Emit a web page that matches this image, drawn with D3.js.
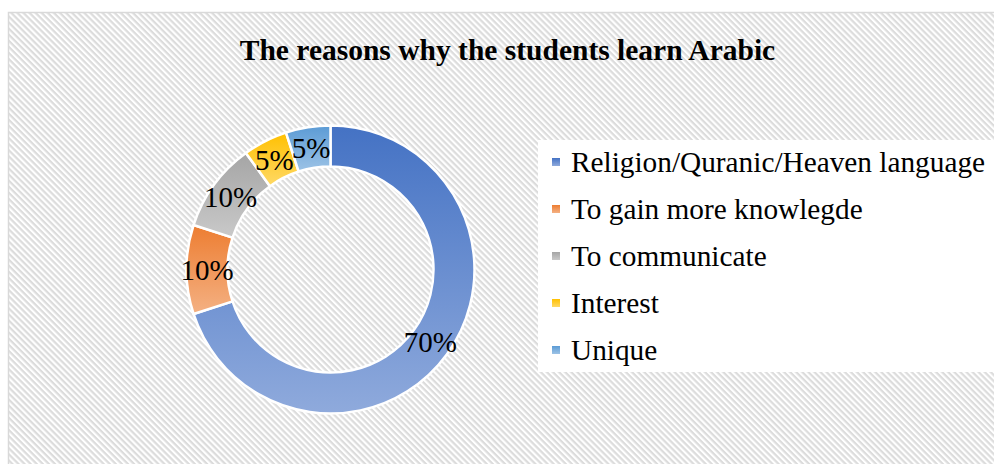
<!DOCTYPE html>
<html>
<head>
<meta charset="utf-8">
<script src="https://cdn.jsdelivr.net/npm/d3@7/dist/d3.min.js"></script>
<style>
html,body{margin:0;padding:0;background:#fff;}
svg{display:block;}
</style>
</head>
<body>
<svg id="chart" width="994" height="464"></svg>
<script>
const title = "The reasons why the students learn Arabic";
const categories = ["Religion/Quranic/Heaven language","To gain more knowlegde","To communicate","Interest","Unique"];
const values = [70, 10, 10, 5, 5];
const labels = ["70%","10%","10%","5%","5%"];
const colorsTop = ["#4472C4","#ED7D31","#A5A5A5","#FFC000","#5B9BD5"];
const colorsBottom = ["#8FAADC","#F4B183","#C9C9C9","#FFD966","#9DC3E6"];

const svg = d3.select("#chart");
const W = 994, H = 464;
const defs = svg.append("defs");
const serif = "'Liberation Serif','Times New Roman',Times,serif";

// hatch pattern
const pat = defs.append("pattern").attr("id","hatch").attr("patternUnits","userSpaceOnUse")
  .attr("width",4.3).attr("height",4.3).attr("patternTransform","rotate(45)");
pat.append("rect").attr("width",4.3).attr("height",4.3).attr("fill","#ffffff");
pat.append("rect").attr("width",4.3).attr("height",2.2).attr("fill","#dcdcdc");

svg.append("rect").attr("width",W).attr("height",H).attr("fill","#fff");
svg.append("rect").attr("x",8.5).attr("y",12.5).attr("width",1000).attr("height",500)
  .attr("fill","url(#hatch)").attr("stroke","#d9d9d9").attr("stroke-width",1.5);

// gradients
categories.forEach((c,i)=>{
  const g = defs.append("linearGradient").attr("id","grad"+i)
    .attr("x1",0).attr("y1",0).attr("x2",0).attr("y2",1);
  g.append("stop").attr("offset","0%").attr("stop-color",colorsTop[i]);
  g.append("stop").attr("offset","100%").attr("stop-color",colorsBottom[i]);
});

// title
svg.append("text").attr("x",507.5).attr("y",60).attr("text-anchor","middle")
  .attr("font-family",serif)
  .attr("font-weight","bold").attr("font-size",29.5).attr("fill","#000").text(title);

// donut
const cx = 330.5, cy = 269.5, rOuter = 144, rInner = 103;
const pie = d3.pie().sort(null).value(d=>d);
const arc = d3.arc().innerRadius(rInner).outerRadius(rOuter);
const arcs = pie(values);
const g = svg.append("g").attr("transform",`translate(${cx},${cy})`);
g.selectAll("path").data(arcs).enter().append("path")
  .attr("d",arc).attr("fill",(d,i)=>`url(#grad${i})`)
  .attr("stroke","#fff").attr("stroke-width",2.5).attr("stroke-linejoin","round");
g.selectAll("text").data(arcs).enter().append("text")
  .attr("transform",d=>`translate(${arc.centroid(d)})`)
  .attr("text-anchor","middle").attr("dy","0.35em")
  .attr("font-family",serif)
  .attr("font-size",29).attr("fill","#000")
  .text((d,i)=>labels[i]);

// legend
svg.append("rect").attr("x",538).attr("y",140).attr("width",460).attr("height",232).attr("fill","#fff");
const lg = svg.append("g");
categories.forEach((c,i)=>{
  const y = 172 + i*47;
  lg.append("rect").attr("x",552).attr("y",y-14).attr("width",8).attr("height",8)
    .attr("fill",`url(#grad${i})`);
  lg.append("text").attr("x",571).attr("y",y)
    .attr("font-family",serif)
    .attr("font-size",29.3).attr("fill","#000").text(c);
});
</script>
</body>
</html>
